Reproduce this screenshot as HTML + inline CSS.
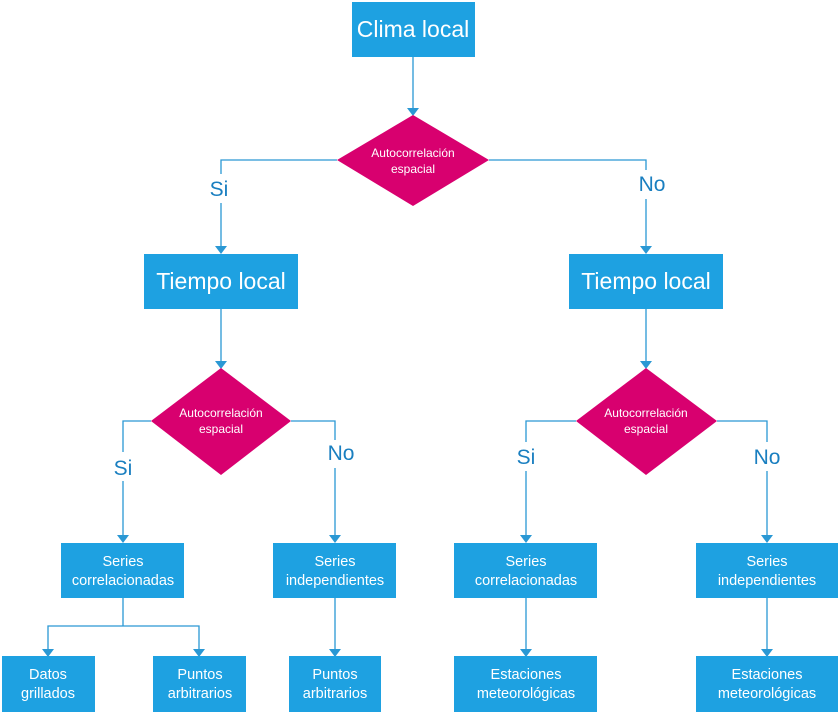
<!DOCTYPE html>
<html><head><meta charset="utf-8"><style>
body{margin:0;background:#fff}
svg{display:block}
text{font-family:"Liberation Sans",sans-serif}
.b{fill:#1ea1e1}
.d{fill:#d8006f}
.l{stroke:#2a98d4;stroke-width:1.3;fill:none}
.a{fill:#2a98d4}
.w{fill:#fff;text-anchor:middle}
.lab{fill:#1a7fc0;text-anchor:middle;font-size:21px}
</style></head><body>
<svg width="840" height="713" viewBox="0 0 840 713" xmlns="http://www.w3.org/2000/svg">
<g class="l">
<path d="M413 57V108"/>
<path d="M337 160H221V174M221 203V247"/>
<path d="M489 160H646V170M646 199V247"/>
<path d="M221 309V361"/>
<path d="M646 309V361"/>
<path d="M151 421H123V452M123 481V535"/>
<path d="M291 421H335V440M335 468V535"/>
<path d="M576 421H526V442M526 471V535"/>
<path d="M717 421H767V442M767 471V535"/>
<path d="M123 598V626M48 650V626H199V650"/>
<path d="M335 598V650"/>
<path d="M526 598V650"/>
<path d="M767 598V650"/>
</g>
<g class="a">
<path d="M407 108h12l-6 8z"/>
<path d="M215 246h12l-6 8z"/>
<path d="M640 246h12l-6 8z"/>
<path d="M215 361h12l-6 8z"/>
<path d="M640 361h12l-6 8z"/>
<path d="M117 535h12l-6 8z"/>
<path d="M329 535h12l-6 8z"/>
<path d="M520 535h12l-6 8z"/>
<path d="M761 535h12l-6 8z"/>
<path d="M42 649h12l-6 8z"/>
<path d="M193 649h12l-6 8z"/>
<path d="M329 649h12l-6 8z"/>
<path d="M520 649h12l-6 8z"/>
<path d="M761 649h12l-6 8z"/>
</g>
<rect class="b" x="352" y="2" width="123" height="55"/>
<text class="w" x="413" y="37" font-size="23">Clima local</text>
<rect class="b" x="144" y="254" width="154" height="55"/>
<text class="w" x="221" y="289" font-size="23">Tiempo local</text>
<rect class="b" x="569" y="254" width="154" height="55"/>
<text class="w" x="646" y="289" font-size="23">Tiempo local</text>
<polygon class="d" points="413,115 489,160 413,206 337,160"/>
<text class="w" x="413" y="157" font-size="12">Autocorrelación</text>
<text class="w" x="413" y="173" font-size="12">espacial</text>
<polygon class="d" points="221,368 291,421 221,475 151,421"/>
<text class="w" x="221" y="417" font-size="12">Autocorrelación</text>
<text class="w" x="221" y="433" font-size="12">espacial</text>
<polygon class="d" points="646,368 717,421 646,475 576,421"/>
<text class="w" x="646" y="417" font-size="12">Autocorrelación</text>
<text class="w" x="646" y="433" font-size="12">espacial</text>
<text class="lab" x="219" y="196">Si</text>
<text class="lab" x="652" y="191">No</text>
<text class="lab" x="123" y="475">Si</text>
<text class="lab" x="341" y="460">No</text>
<text class="lab" x="526" y="464">Si</text>
<text class="lab" x="767" y="464">No</text>
<g font-size="14.5">
<rect class="b" x="61" y="543" width="123" height="55"/>
<text class="w" x="123" y="566">Series</text><text class="w" x="123" y="585">correlacionadas</text>
<rect class="b" x="273" y="543" width="123" height="55"/>
<text class="w" x="335" y="566">Series</text><text class="w" x="335" y="585">independientes</text>
<rect class="b" x="454" y="543" width="143" height="55"/>
<text class="w" x="526" y="566">Series</text><text class="w" x="526" y="585">correlacionadas</text>
<rect class="b" x="696" y="543" width="142" height="55"/>
<text class="w" x="767" y="566">Series</text><text class="w" x="767" y="585">independientes</text>
<rect class="b" x="2" y="656" width="93" height="56"/>
<text class="w" x="48" y="679">Datos</text><text class="w" x="48" y="698">grillados</text>
<rect class="b" x="153" y="656" width="93" height="56"/>
<text class="w" x="200" y="679">Puntos</text><text class="w" x="200" y="698">arbitrarios</text>
<rect class="b" x="289" y="656" width="92" height="56"/>
<text class="w" x="335" y="679">Puntos</text><text class="w" x="335" y="698">arbitrarios</text>
<rect class="b" x="454" y="656" width="143" height="56"/>
<text class="w" x="526" y="679">Estaciones</text><text class="w" x="526" y="698">meteorológicas</text>
<rect class="b" x="696" y="656" width="142" height="56"/>
<text class="w" x="767" y="679">Estaciones</text><text class="w" x="767" y="698">meteorológicas</text>
</g>
</svg>
</body></html>
